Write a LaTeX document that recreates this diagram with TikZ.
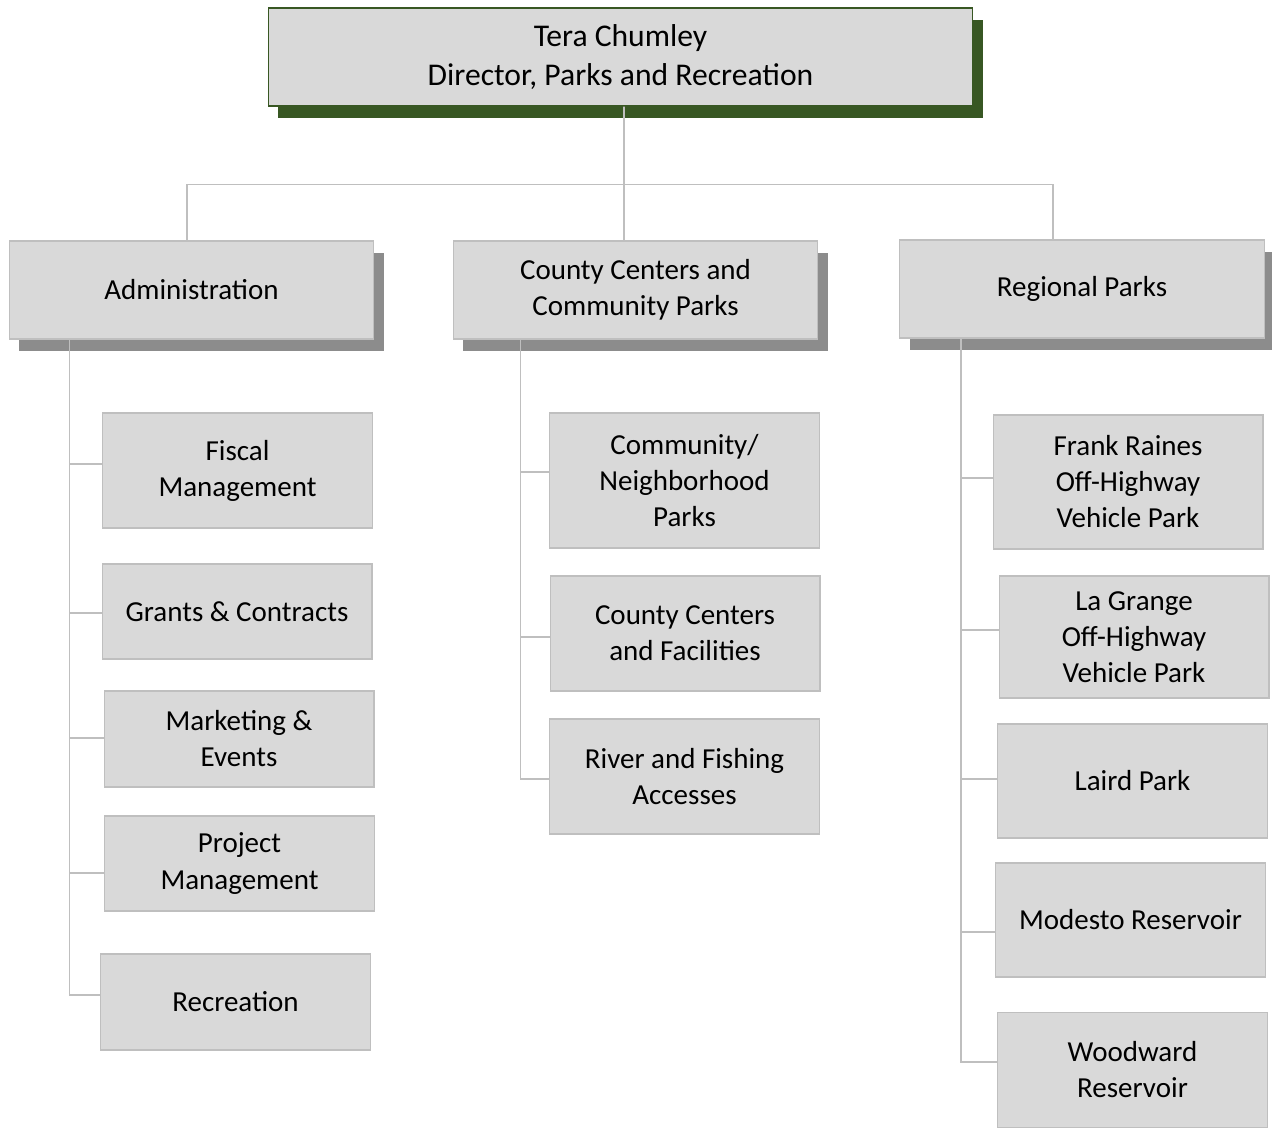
\documentclass[tikz,border=0pt]{standalone}
\usepackage{fontspec}
\setmainfont{Carlito}
\usetikzlibrary{shadows}
\definecolor{orgfill}{HTML}{D9D9D9}
\definecolor{orgedge}{HTML}{BFBFBF}
\definecolor{orgline}{HTML}{BFBFBF}
\definecolor{orgshade}{HTML}{8C8C8C}
\definecolor{orggreen}{HTML}{385723}
\begin{document}
\begin{tikzpicture}[x=0.02cm, y=-0.02cm,
  unit/.style={draw=orgedge, fill=orgfill, line width=0.6pt, align=center, inner sep=2pt,
    font=\fontsize{16.5}{20.5}\selectfont},
  head/.style={unit, minimum width=7.3cm, minimum height=1.96cm,
    general shadow={fill=orgshade, shadow xshift=0.2cm, shadow yshift=-0.24cm}},
  leaf/.style={unit, minimum width=5.4cm},
  conn/.style={draw=orgline, line width=1.1pt}]
  \useasboundingbox (0,0) rectangle (1272,1127);
  \node[unit, draw=orggreen, minimum width=14.1cm, minimum height=1.96cm,
    general shadow={fill=orggreen, shadow xshift=0.2cm, shadow yshift=-0.24cm},
    font=\fontsize{18}{22.2}\selectfont] (top) at (620.5,57) {Tera Chumley\\Director, Parks and Recreation};
  \node[head] (admin) at (191.5,290) {Administration};
  \node[head] (county) at (635.5,290) {County Centers and\\Community Parks};
  \node[head] (regional) at (1082,289) {Regional Parks};
  \node[leaf, minimum height=2.3cm] (fiscal) at (237.5,470.5) {Fiscal\\Management};
  \node[leaf, minimum height=1.9cm] (grants) at (237,611.5) {Grants \& Contracts};
  \node[leaf, minimum height=1.92cm] (marketing) at (239,739) {Marketing \&\\Events};
  \node[leaf, minimum height=1.9cm] (project) at (239.5,863.5) {Project\\Management};
  \node[leaf, minimum height=1.92cm] (recreation) at (235.5,1002) {Recreation};
  \node[leaf, minimum height=2.7cm] (community) at (684.5,480.5) {Community/\\Neighborhood\\Parks};
  \node[leaf, minimum height=2.3cm] (centers) at (685,633.5) {County Centers\\and Facilities};
  \node[leaf, minimum height=2.3cm] (river) at (684.5,776.5) {River and Fishing\\Accesses};
  \node[leaf, minimum height=2.68cm] (frank) at (1128,482) {Frank Raines\\Off-Highway\\Vehicle Park};
  \node[leaf, minimum height=2.44cm] (lagrange) at (1134,637) {La Grange\\Off-Highway\\Vehicle Park};
  \node[leaf, minimum height=2.28cm] (laird) at (1132.5,781) {Laird Park};
  \node[leaf, minimum height=2.28cm] (modesto) at (1130.5,920) {Modesto Reservoir};
  \node[leaf, minimum height=2.3cm] (woodward) at (1132.5,1070) {Woodward\\Reservoir};
  \draw[conn] ([xshift=0.07cm]top.south) -- ([xshift=-0.23cm]county.north);
  \draw[conn] ([xshift=-0.09cm]admin.north) -- ++(0,-56) -| ([xshift=-0.58cm]regional.north);
  \foreach \n/\d in {fiscal/-6.5,grants/1.5,marketing/-1,project/9.5,recreation/-7}
    \draw[conn] ([xshift=1.22cm]admin.south west) |- ([shift={(0,\d)}]\n.west);
  \foreach \n/\d in {community/-8.5,centers/3.5,river/2.5}
    \draw[conn] ([xshift=1.36cm]county.south west) |- ([shift={(0,\d)}]\n.west);
  \foreach \n/\d in {frank/-4,lagrange/-7,laird/-2,modesto/12,woodward/-8}
    \draw[conn] ([xshift=1.24cm]regional.south west) |- ([shift={(0,\d)}]\n.west);
\end{tikzpicture}
\end{document}
